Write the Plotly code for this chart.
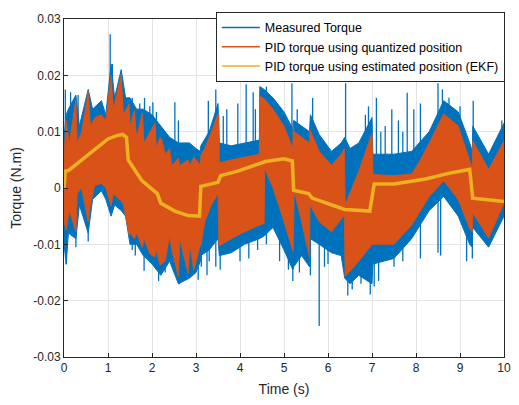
import plotly.graph_objects as go

# ---- data (torque values in mN.m, converted to N.m below) ----
# PID torque using quantized position: dense oscillation, read as upper/lower envelope
pid_q_t = [0.00, 0.05, 0.12, 0.27, 0.30, 0.40, 0.55, 0.60, 0.70, 0.85, 0.95, 1.07, 1.12, 1.20, 1.30, 1.35,
           1.48, 1.50, 1.60, 1.65, 1.78, 1.82, 1.95, 2.07, 2.10, 2.18, 2.22, 2.30, 2.40, 2.45, 2.60, 2.63,
           2.82, 2.86, 2.95, 3.10, 3.11, 3.20, 3.35, 3.50, 3.52, 3.53, 3.80, 4.10, 4.44, 4.45, 4.55, 4.56,
           4.75, 5.00, 5.20, 5.21, 5.23, 5.40, 5.58, 5.59, 5.80, 6.08, 6.30, 6.37, 6.39, 6.70, 7.00, 7.02,
           7.50, 7.90, 8.10, 8.30, 8.63, 8.96, 9.22, 9.28, 9.29, 9.65, 10.00]
pid_q_hi = [6, 12, 8, 15.7, 8, 10, 17.2, 11, 12.5, 13, 12, 20, 14, 17, 20.1, 13,
            15, 11, 13.8, 9, 13.3, 8, 10, 11.6, 7, 9, 8.7, 6, 7, 4, 5.3, 4,
            5, 4, 5.5, 4.1, 5.8, 7, 10, 13.2, 13.2, 4.5, 5, 5.5, 6, 16.3, 15.8, 15.8,
            14, 11, 7, 11, 10, 9, 8, 10.4, 6.5, 4.1, 6, 7, -3, 3, 9.8, 2.4,
            2.2, 2.5, 5, 8, 13.2, 11, 5, 3.5, 8.4, 3.3, 8.4]
pid_q_lo = [-6, -7.5, -4, -7.8, -1, 0, -6.1, -3, 0.5, 0.8, 0, -3.2, -1, -1.5, -2.3, -3,
            -8.3, -8, -9, -8, -10.6, -9, -11.7, -12.3, -11, -13.7, -13.5, -12.9, -8.5, -11, -15.7, -9,
            -15.2, -10, -14.6, -10, -10.3, -6, -3, -1, -10.3, -10.3, -9, -7.8, -6.6, -6.6, -6.3, 3.5,
            0, -6, -11.2, -11.2, -0.5, -6, -12.3, -3, -6, -7.8, -5.5, -4.9, -15.7, -13, -10, -10,
            -10, -6.6, -4, -1.5, 1.3, -2.1, -7.2, -7.8, -4.4, -8.9, -2.7]

# Measured torque: envelope of the noisy signal
meas_t = [0.00, 0.05, 0.10, 0.27, 0.35, 0.55, 0.65, 0.85, 0.95, 1.07, 1.15, 1.30, 1.40, 1.50, 1.65, 1.80,
          2.00, 2.20, 2.40, 2.60, 2.85, 3.00, 3.10, 3.11, 3.30, 3.50, 3.53, 3.80, 4.10, 4.44, 4.45, 4.55,
          4.75, 5.00, 5.20, 5.22, 5.40, 5.58, 5.60, 5.80, 6.08, 6.30, 6.38, 6.50, 6.70, 7.00, 7.02, 7.50,
          7.90, 8.30, 8.63, 8.96, 9.22, 9.28, 9.29, 9.65, 10.00]
meas_hi = [9, 13, 14, 16.5, 11, 17.5, 14, 15.5, 13, 22, 16, 21, 16, 16, 14, 14,
           13, 11, 9, 8, 8, 7, 6.5, 7.5, 10, 15, 8, 7.5, 8, 8.5, 18, 17.5,
           16, 13.5, 10.5, 12, 11, 10, 13, 9.5, 6.5, 8, 9, 7, 8, 12.5, 6, 6,
           6.5, 10, 15.5, 13.5, 8, 6.5, 11, 6, 11.5]
meas_lo = [-10, -13.5, -8, -9, -3, -8, -2, -0.5, -2, -5, -3, -4, -5, -10, -10, -12,
           -13.5, -15.5, -13, -17, -16, -15, -13, -12, -11, -9, -12, -11.5, -10, -9, -9, -8.5,
           -7, -11, -14.5, -14, -12, -14, -9, -10, -11.5, -12, -16, -17, -15.5, -17, -13.5, -12.5,
           -9, -4, -1.5, -5, -10, -10.5, -7, -10.5, -5]

# Measured torque: isolated spikes (time, peak value)
spike_t = [0.03, 0.15, 0.22, 0.32, 0.60, 1.05, 1.10, 1.30, 1.55, 1.72, 1.83, 1.95, 2.02, 2.10, 2.52, 2.60,
           3.28, 3.45, 3.62, 3.70, 3.95, 4.14, 4.30, 4.35, 4.60, 5.18, 5.30, 5.65, 6.40, 6.85, 6.92, 7.10,
           7.20, 7.30, 7.45, 7.60, 7.70, 7.80, 7.95, 8.10, 8.50, 8.60, 8.75, 9.00, 9.30, 9.95,
           0.05, 0.27, 0.55, 1.55, 1.62, 1.82, 2.15, 2.30, 2.62, 2.82, 3.05, 3.12, 3.25, 3.30, 3.45, 3.55,
           4.00, 4.20, 4.40, 4.60, 4.90, 5.10, 5.20, 5.35, 5.60, 5.80, 5.92, 6.00, 6.45, 6.55, 6.75, 6.96,
           7.05, 7.15, 7.50, 7.70, 8.10, 8.50, 8.56, 9.15, 9.28]
spike_v = [17.5, 17.0, 15, 16.5, 14.5, 27.3, 22, 20.2, 16, 15, 16, 14.5, 15.2, 13.5, 15.2, 12,
           15.5, 17.5, 12.8, 14, 15, 18.4, 17, 14, 18, 18.6, 14, 16, 18.6, 13, 14.5, 16,
           10, 11, 14, 12, 10, 16.9, 14, 15, 18.6, 17.5, 16, 14.5, 15.5, 12,
           -13.6, -10.5, -9.5, -11, -12, -14.7, -16.5, -15, -17.1, -16, -16.3, -14, -15.5, -13, -14, -14.5,
           -13, -12.5, -11, -10, -13, -14.5, -16.5, -15, -15.5, -24.5, -14, -13.5, -19.1, -18, -17, -18.9,
           -17.5, -16.5, -14, -13, -12.5, -11.5, -12, -13, -12.5]

# PID torque using estimated position (EKF)
ekf_t = [0.00, 0.03, 0.10, 0.50, 0.80, 1.00, 1.20, 1.33, 1.42, 1.46, 1.55, 1.77, 2.12, 2.20, 2.52, 2.82,
         3.08, 3.11, 3.50, 3.56, 3.95, 4.40, 4.58, 5.00, 5.19, 5.22, 5.56, 5.64, 6.08, 6.38, 6.95, 7.05,
         7.50, 8.22, 8.74, 9.22, 9.29, 10.00]
ekf_v = [0, 3, 3.1, 5.6, 7.5, 8.7, 9.3, 9.5, 9.0, 5.0, 3.9, 1.3, -1.0, -2.7, -4.1, -4.9,
         -5.0, 0.3, 1.0, 2.2, 3.0, 4.1, 4.7, 5.2, 4.8, -0.4, -1.0, -1.8, -2.9, -3.8, -4.1, 0.7,
         0.7, 1.6, 2.6, 3.3, -1.8, -2.4]

x_ticks = list(range(0, 11))
y_ticks = [-0.03, -0.02, -0.01, 0, 0.01, 0.02, 0.03]
y_tick_text = ["-0.03", "-0.02", "-0.01", "0", "0.01", "0.02", "0.03"]
series_names = ["Measured Torque", "PID torque using quantized position",
                "PID torque using estimated position (EKF)"]

BLUE, ORANGE, YELLOW = "#0072BD", "#D95319", "#EDB120"
S = 1e-3

def band(t, hi, lo):
    xs = list(t) + list(t)[::-1]
    ys = [v * S for v in hi] + [v * S for v in lo][::-1]
    return xs, ys

fig = go.Figure()

bx, by = band(meas_t, meas_hi, meas_lo)
fig.add_trace(go.Scatter(x=bx, y=by, fill="toself", fillcolor=BLUE, mode="lines",
                         line=dict(color=BLUE, width=1), showlegend=False, hoverinfo="skip"))
sx, sy = [], []
for t, v in zip(spike_t, spike_v):
    sx += [t, t, None]
    sy += [0, v * S, None]
fig.add_trace(go.Scatter(x=sx, y=sy, mode="lines", line=dict(color=BLUE, width=1.3),
                         showlegend=False, hoverinfo="skip"))

ox, oy = band(pid_q_t, pid_q_hi, pid_q_lo)
fig.add_trace(go.Scatter(x=ox, y=oy, fill="toself", fillcolor=ORANGE, mode="lines",
                         line=dict(color=ORANGE, width=0.8), showlegend=False, hoverinfo="skip"))

fig.add_trace(go.Scatter(x=ekf_t, y=[v * S for v in ekf_v], mode="lines",
                         line=dict(color=YELLOW, width=3.5), showlegend=False, hoverinfo="skip"))

for name, col in zip(series_names, [BLUE, ORANGE, YELLOW]):
    fig.add_trace(go.Scatter(x=[None], y=[None], mode="lines", name=name,
                             line=dict(color=col, width=1.5)))

axis_common = dict(showline=True, mirror=True, linecolor="#262626", linewidth=1,
                   ticks="inside", ticklen=4, tickcolor="#262626", automargin=False,
                   ticklabeloverflow="allow",
                   showgrid=True, gridcolor="#e3e3e3", gridwidth=1, zeroline=False,
                   tickfont=dict(size=12, color="#262626"))

# the page body adds an 8 px offset, so the figure is sized to the visible window area
fig.update_layout(
    width=503, height=389,
    margin=dict(l=56, r=7, t=4, b=40),
    paper_bgcolor="white", plot_bgcolor="white",
    font=dict(family="Liberation Sans, Arial, sans-serif", color="#262626"),
    xaxis=dict(range=[0, 10], tickvals=x_ticks,
               title=dict(text="Time (s)", font=dict(size=14), standoff=12), **axis_common),
    yaxis=dict(range=[-0.03000001, 0.03000001], tickvals=y_ticks, ticktext=y_tick_text,
               title=dict(text="Torque (N.m)", font=dict(size=14), standoff=9), **axis_common),
    legend=dict(x=0.345, y=1.021, xanchor="left", yanchor="top",
                bgcolor="white", bordercolor="#262626", borderwidth=1,
                font=dict(size=12.5, color="#000000"), tracegroupgap=0,
                itemwidth=38),
    showlegend=True,
)

fig.write_html("out.html")
